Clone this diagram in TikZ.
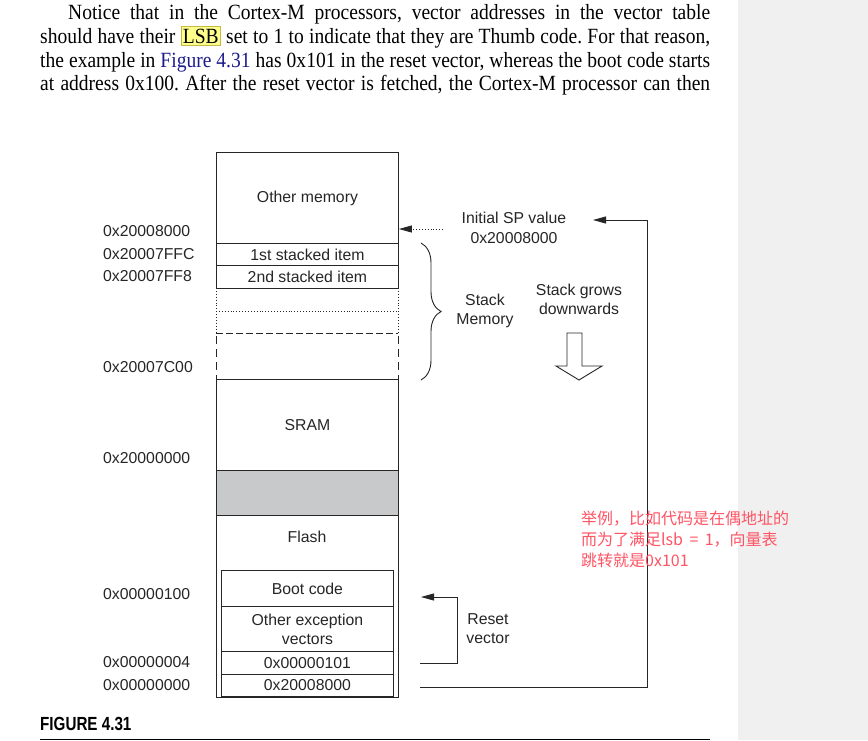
\documentclass[tikz,border=0pt]{standalone}
\usepackage{fontspec}
\setmainfont[FakeStretch=0.9]{Liberation Serif}
\newfontfamily\diagfont{Liberation Sans}
\newfontfamily\capfont[FakeStretch=0.8]{Liberation Sans}
\newfontfamily\cjkfont{Noto Sans CJK SC}
\usepackage{xcolor}
\usetikzlibrary{arrows.meta,positioning,decorations.pathreplacing,calc}
\frenchspacing

\definecolor{inkgray}{RGB}{38,38,38}
\definecolor{cellgray}{RGB}{200,201,202}
\definecolor{notered}{RGB}{255,84,100}
\definecolor{panelgray}{RGB}{240,240,240}
\definecolor{linkblue}{RGB}{28,28,140}
\definecolor{hlyellow}{RGB}{255,255,140}
\definecolor{hlborder}{RGB}{200,185,70}

\tikzset{
  diag/.style={font=\diagfont\fontsize{15.8}{19}\selectfont, text=inkgray},
  cell/.style={diag, draw=inkgray, line width=0.9pt, minimum width=182pt,
    minimum height=#1, inner sep=0pt, anchor=north west},
  subcell/.style={cell=#1, minimum width=172pt, align=center},
  addr/.style={diag, anchor=west, inner sep=0pt},
  note/.style={diag, align=center, inner sep=0pt},
  bodyline/.style={font=\rmfamily\fontsize{21.7}{23.7}\selectfont, anchor=base west, inner sep=0pt},
  wire/.style={draw=inkgray, line width=0.9pt},
  tip/.style={-{Triangle[length=13pt,width=7pt]}}
}

\begin{document}
\begin{tikzpicture}[x=1pt,y=-1pt]
  \useasboundingbox (0,0) rectangle (868,740);
  \fill[white] (0,0) rectangle (868,740);
  \fill[panelgray] (738,0) rectangle (868,740);

  % running text above the figure
  \node[bodyline] (line1) at (68,19) {\makebox[642pt][s]{Notice that in the Cortex-M processors, vector addresses in the vector table}};
  \node[bodyline] (line2) at (40,43) {\makebox[670pt][s]{should have their {\setlength{\fboxsep}{1.5pt}\setlength{\fboxrule}{0.7pt}\fcolorbox{hlborder}{hlyellow}{LSB}} set to 1 to indicate that they are Thumb code. For that reason,}};
  \node[bodyline] (line3) at (40,67) {\makebox[670pt][s]{the example in \textcolor{linkblue}{Figure 4.31} has 0x101 in the reset vector, whereas the boot code starts}};
  \node[bodyline] (line4) at (40,90) {\makebox[670pt][s]{at address 0x100. After the reset vector is fetched, the Cortex-M processor can then}};

  % memory column
  \node[cell=91pt] (other) at (216,152) {Other memory};
  \node[cell=22pt] (item1) at (216,243) {1st stacked item};
  \node[cell=23pt] (item2) at (216,265) {2nd stacked item};
  \draw[inkgray, dotted, line width=0.9pt] (216,288) -- (216,333) (398,288) -- (398,333) (216,311) -- (398,311);
  \draw[inkgray, line width=0.9pt, dash pattern=on 7pt off 3pt] (216,333) -- (398,333);
  \draw[inkgray, line width=0.9pt, dash pattern=on 8pt off 5pt] (216,336) -- (216,379) (398,336) -- (398,379);
  \node[cell=91pt] (sram) at (216,379) {SRAM};
  \node[cell=45pt, fill=cellgray] (gap) at (216,470) {};
  \node[cell=182pt] (flash) at (216,515) {};
  \node[diag] (flashtxt) at (307,537) {Flash};
  \node[subcell=36pt] (boot) at (221,570) {Boot code};
  \node[subcell=45pt] (exc) at (221,606) {Other exception\\vectors};
  \node[subcell=23pt] (vec1) at (221,651) {0x00000101};
  \node[subcell=22pt] (vec0) at (221,674) {0x20008000};

  % addresses on the left
  \foreach \y/\txt in {231/0x20008000, 254/0x20007FFC, 276/0x20007FF8, 367/0x20007C00,
      458/0x20000000, 594/0x00000100, 662/0x00000004, 685/0x00000000}
    \node[addr] (addr\y) at (103,\y) {\txt};

  % notes on the right
  \node[note] (spval) at (514,227.5) {Initial SP value\\[1pt]0x20008000};
  \node[note] (stackmem) at (485,310.5) {Stack\\Memory};
  \node[note] (grows) at (579,299) {Stack grows\\downwards};
  \node[note] (reset) at (488,628.5) {Reset\\vector};
  \draw[inkgray, line width=0.9pt, decorate, decoration={brace, amplitude=20pt}] (421,243) -- (421,380);
  \draw[inkgray, line width=0.9pt, fill=white]
    (567,333) -- (582,333) -- (582,366) -- (602,366) -- (579,380) -- (556,366) -- (567,366) -- cycle;

  % arrows
  \coordinate (spdot) at (443,229);
  \draw[wire, dotted, tip] (spdot) -- (other.east |- spdot);
  \coordinate (spout) at (420,687);
  \coordinate (spin) at (593,220);
  \draw[wire, tip] (spout) -- (647,687) -- (647,220) -- (spin);
  \coordinate (rstout) at (420,663);
  \coordinate (rstin) at (421,597);
  \draw[wire, tip] (rstout) -- (457,663) -- (457,597) -- (rstin);

  % annotation
  \node[anchor=north west, inner sep=0pt, align=left, text=notered,
    font=\cjkfont\fontsize{16}{21}\selectfont] (memo) at (581,511)
    {举例，比如代码是在偶地址的\\而为了满足lsb\hspace{0.4em}=\hspace{0.4em}1，向量表\\跳转就是0x101};

  % caption
  \node[anchor=base west, inner sep=0pt, font=\capfont\bfseries\fontsize{19}{22}\selectfont] (caption) at (40,730) {FIGURE 4.31};
  \draw[line width=1pt] (40,739) -- (710,739);
\end{tikzpicture}
\end{document}
